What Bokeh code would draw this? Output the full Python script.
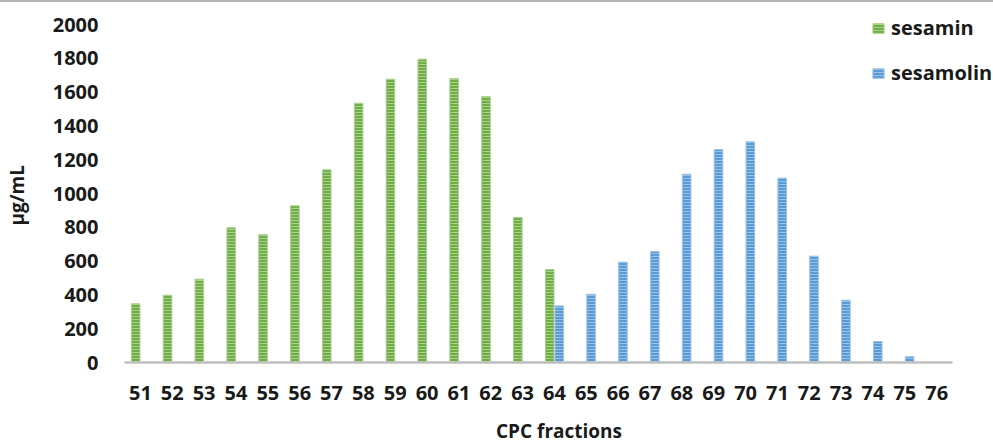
from bokeh.plotting import figure
from bokeh.models import Range1d, Legend, LegendItem, ColumnDataSource, FixedTicker
from bokeh.transform import dodge
from bokeh.embed import file_html
from bokeh.resources import INLINE

fractions = ["51", "52", "53", "54", "55", "56", "57", "58", "59", "60", "61", "62", "63",
             "64", "65", "66", "67", "68", "69", "70", "71", "72", "73", "74", "75", "76"]
sesamin = [347, 398, 493, 797, 757, 927, 1140, 1534, 1676, 1795, 1680, 1574, 858,
           550, 0, 0, 0, 0, 0, 0, 0, 0, 0, 0, 0, 0]
sesamolin = [0, 0, 0, 0, 0, 0, 0, 0, 0, 0, 0, 0, 0,
             335, 404, 594, 657, 1114, 1260, 1306, 1091, 629, 369, 124, 34, 0]
y_ticks = [0, 200, 400, 600, 800, 1000, 1200, 1400, 1600, 1800, 2000]

pos = [i + 1 for i in range(len(fractions))]
src = ColumnDataSource(dict(pos=pos, frac=fractions, sesamin=sesamin, sesamolin=sesamolin))

FONT = "Open Sans"
TXT = "#1a1a1a"

# plot area: categories occupy 122..952 px; the frame runs on to the window edge
n = len(fractions)
px_per_cat = 830 / n
x_end = 0.5 + 871 / px_per_cat
# y: 0 at 362 px, 2000 at 24 px; the frame starts higher (8 px) so the legend is not clipped
y_end = 2000 * 354 / 338

p = figure(width=993, height=444, output_backend="svg", toolbar_location=None,
           x_range=Range1d(0.5, x_end), y_range=Range1d(0, y_end),
           min_border_left=122, min_border_right=0, min_border_top=6, min_border_bottom=84)
p.styles = {"border-top": "2px solid #b4b4b4"}
p.outline_line_color = None
p.xgrid.grid_line_color = None
p.ygrid.grid_line_color = None

r1 = p.vbar(x=dodge("pos", -0.15), top="sesamin", width=0.27, source=src,
            fill_color="#70ad47", line_color="#a9d18e", line_width=1,
            hatch_pattern="horizontal_line", hatch_color="#b5d99c", hatch_scale=3,
            hatch_weight=1, hatch_alpha=0.8)
r2 = p.vbar(x=dodge("pos", 0.15), top="sesamolin", width=0.27, source=src,
            fill_color="#5b9bd5", line_color="#9dc3e6", line_width=1,
            hatch_pattern="horizontal_line", hatch_color="#a8cbec", hatch_scale=3,
            hatch_weight=1, hatch_alpha=0.8)

# axes
p.yaxis.ticker = FixedTicker(ticks=y_ticks)
p.yaxis.axis_line_color = None
p.yaxis.major_tick_line_color = None
p.yaxis.minor_tick_line_color = None
p.yaxis.major_label_standoff = 20
p.yaxis.axis_label = "µg/mL\u00a0\u00a0\u00a0\u00a0"
p.yaxis.axis_label_standoff = 20

p.xaxis.ticker = FixedTicker(ticks=pos)
p.xaxis.major_label_overrides = {x: f for x, f in zip(pos, fractions)}
p.xaxis.bounds = (0.5, n + 0.5)
p.xaxis.axis_line_color = "#bfbfbf"
p.xaxis.axis_line_width = 2.5
p.xaxis.major_tick_line_color = None
p.xaxis.minor_tick_line_color = None
p.xaxis.major_label_standoff = 17
p.xaxis.axis_label = "CPC fractions"
p.xaxis.axis_label_standoff = 15

for ax in (p.xaxis[0], p.yaxis[0]):
    ax.major_label_text_font = FONT
    ax.major_label_text_font_style = "bold"
    ax.major_label_text_font_size = "20px"
    ax.major_label_text_color = TXT
    ax.axis_label_text_font = FONT
    ax.axis_label_text_font_style = "bold"
    ax.axis_label_text_font_size = "19px"
    ax.axis_label_text_color = TXT

legend = Legend(items=[LegendItem(label="sesamin", renderers=[r1]),
                       LegendItem(label="sesamolin", renderers=[r2])],
                location=(747, 276), orientation="vertical",
                padding=0, margin=0, spacing=18, label_standoff=6,
                glyph_width=14, glyph_height=12, label_height=20,
                border_line_color=None, background_fill_alpha=0,
                label_text_font=FONT, label_text_font_style="bold",
                label_text_font_size="20px", label_text_color=TXT)
p.add_layout(legend)

open("out.html", "w").write(file_html(p, INLINE))
